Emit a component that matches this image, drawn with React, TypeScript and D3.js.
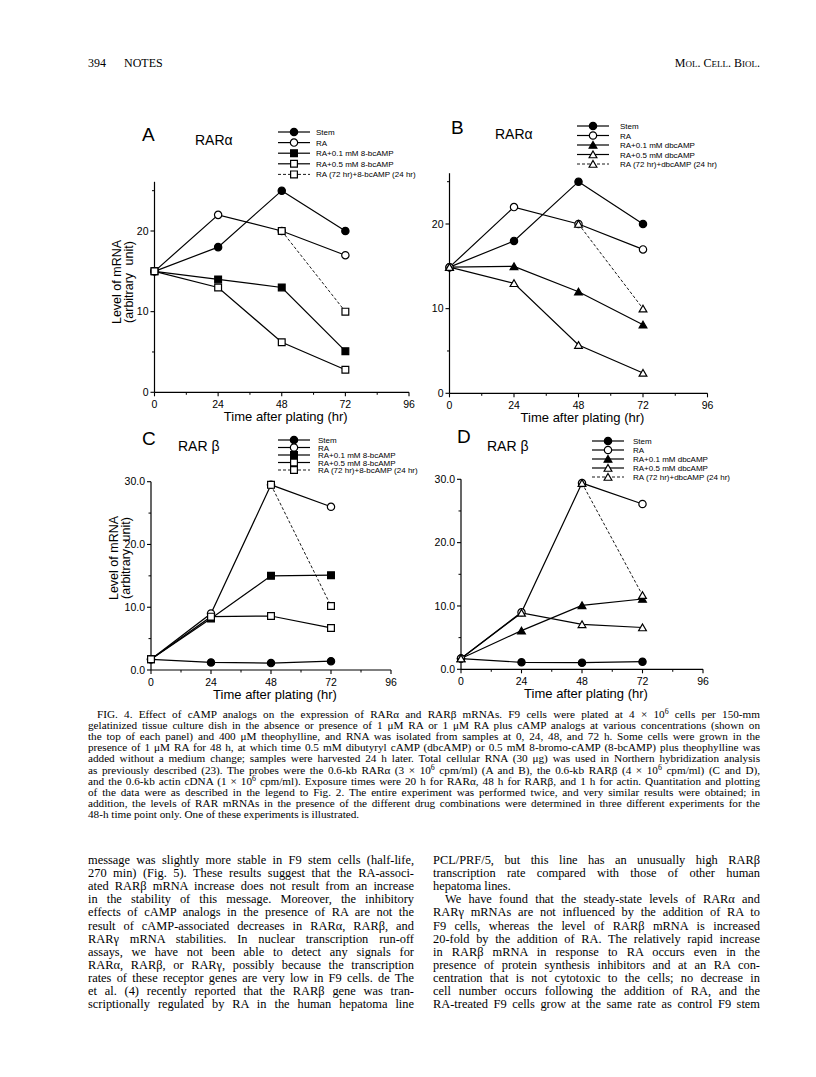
import React, { useLayoutEffect, useRef } from 'react';
import * as d3 from 'd3';

const CHART_FONT = "'Liberation Sans', Arial, Helvetica, sans-serif";
const TEXT_FONT = "'Liberation Serif', 'Times New Roman', Times, serif";

// ---------- data ----------
const times = [0, 24, 48, 72];
const lateTimes = [48, 72];
const xTicks = [0, 24, 48, 72, 96];
const xMinorTicks = [12, 36, 60, 84];

const alphaTicks = [0, 10, 20];
const alphaMinor = [5, 15, 25];
const betaTicks = [0, 10, 20, 30];
const betaMinor = [5, 15, 25];

// Panel A: RARα with 8-bcAMP
const aStem = [15, 18, 25, 20];
const aRA = [15, 22, 20, 17];
const aLow = [15, 14, 13, 5.1];
const aHigh = [15, 13, 6.2, 2.8];
const aLate = [20, 10];

// Panel B: RARα with dbcAMP
const bStem = [14.9, 18, 25, 20];
const bRA = [14.9, 22, 20, 17];
const bLow = [14.9, 15, 12, 8.1];
const bHigh = [14.9, 13, 5.7, 2.4];
const bLate = [20, 10];

// Panel C: RARβ with 8-bcAMP
const cStem = [1.7, 1.2, 1.1, 1.4];
const cRA = [1.7, 9.0, 29.5, 26.0];
const cLow = [1.7, 8.2, 15.0, 15.1];
const cHigh = [1.7, 8.5, 8.6, 6.7];
const cLate = [29.5, 10.2];

// Panel D: RARβ with dbcAMP
const dStem = [1.7, 1.1, 1.05, 1.2];
const dRA = [1.7, 9.0, 29.4, 26.1];
const dLow = [1.7, 6.1, 10.1, 11.1];
const dHigh = [1.7, 8.9, 7.1, 6.6];
const dLate = [29.4, 11.7];

const legendBc = ['Stem', 'RA', 'RA+0.1 mM 8-bcAMP', 'RA+0.5 mM 8-bcAMP', 'RA (72 hr)+8-bcAMP (24 hr)'];
const legendDbc = ['Stem', 'RA', 'RA+0.1 mM dbcAMP', 'RA+0.5 mM dbcAMP', 'RA (72 hr)+dbcAMP (24 hr)'];

// ---------- text ----------
const headerLeft = ['394', 'NOTES'];
const captionLines = [
  'FIG. 4. Effect of cAMP analogs on the expression of RARα and RARβ mRNAs. F9 cells were plated at 4 × 10^6 cells per 150-mm',
  'gelatinized tissue culture dish in the absence or presence of 1 μM RA or 1 μM RA plus cAMP analogs at various concentrations (shown on',
  'the top of each panel) and 400 μM theophylline, and RNA was isolated from samples at 0, 24, 48, and 72 h. Some cells were grown in the',
  'presence of 1 μM RA for 48 h, at which time 0.5 mM dibutyryl cAMP (dbcAMP) or 0.5 mM 8-bromo-cAMP (8-bcAMP) plus theophylline was',
  'added without a medium change; samples were harvested 24 h later. Total cellular RNA (30 μg) was used in Northern hybridization analysis',
  'as previously described (23). The probes were the 0.6-kb RARα (3 × 10^6 cpm/ml) (A and B), the 0.6-kb RARβ (4 × 10^6 cpm/ml) (C and D),',
  'and the 0.6-kb actin cDNA (1 × 10^6 cpm/ml). Exposure times were 20 h for RARα, 48 h for RARβ, and 1 h for actin. Quantitation and plotting',
  'of the data were as described in the legend to Fig. 2. The entire experiment was performed twice, and very similar results were obtained; in',
  'addition, the levels of RAR mRNAs in the presence of the different drug combinations were determined in three different experiments for the',
  '48-h time point only. One of these experiments is illustrated.',
];
const leftColumn = [
  'message was slightly more stable in F9 stem cells (half-life,',
  '270 min) (Fig. 5). These results suggest that the RA-associ-',
  'ated RARβ mRNA increase does not result from an increase',
  'in the stability of this message. Moreover, the inhibitory',
  'effects of cAMP analogs in the presence of RA are not the',
  'result of cAMP-associated decreases in RARα, RARβ, and',
  'RARγ mRNA stabilities. In nuclear transcription run-off',
  'assays, we have not been able to detect any signals for',
  'RARα, RARβ, or RARγ, possibly because the transcription',
  'rates of these receptor genes are very low in F9 cells. de The',
  'et al. (4) recently reported that the RARβ gene was tran-',
  'scriptionally regulated by RA in the human hepatoma line',
];
const rightColumn = [
  'PCL/PRF/5, but this line has an unusually high RARβ',
  'transcription rate compared with those of other human',
  'hepatoma lines.',
  'We have found that the steady-state levels of RARα and',
  'RARγ mRNAs are not influenced by the addition of RA to',
  'F9 cells, whereas the level of RARβ mRNA is increased',
  '20-fold by the addition of RA. The relatively rapid increase',
  'in RARβ mRNA in response to RA occurs even in the',
  'presence of protein synthesis inhibitors and at an RA con-',
  'centration that is not cytotoxic to the cells; no decrease in',
  'cell number occurs following the addition of RA, and the',
  'RA-treated F9 cells grow at the same rate as control F9 stem',
];

type Shape = 'circle' | 'square' | 'triangle';
interface Series {
  t: number[];
  v: number[];
  shape: Shape;
  filled: boolean;
  dashed?: boolean;
}

function makeSeries(stem: number[], ra: number[], low: number[], high: number[], late: number[], shape: Shape): Series[] {
  return [
    { t: times, v: stem, shape: 'circle', filled: true },
    { t: times, v: ra, shape: 'circle', filled: false },
    { t: times, v: low, shape, filled: true },
    { t: times, v: high, shape, filled: false },
    { t: lateTimes, v: late, shape, filled: false, dashed: true },
  ];
}

const symbolPath = (shape: Shape) => {
  const type = shape === 'circle' ? d3.symbolCircle : shape === 'square' ? d3.symbolSquare : d3.symbolTriangle;
  const size = shape === 'circle' ? 42 : shape === 'square' ? 46 : 26;
  return d3.symbol().type(type).size(size)() as string;
};

function Marker({ x, y, shape, filled }: { x: number; y: number; shape: Shape; filled: boolean }) {
  const dy = shape === 'triangle' ? 1 : 0;
  return (
    <path
      d={symbolPath(shape)}
      transform={`translate(${x},${y + dy})`}
      fill={filled ? '#000' : '#fff'}
      stroke="#000"
      strokeWidth={1.2}
    />
  );
}

interface PanelCfg {
  x0: number;
  x1: number;
  yBottom: number;
  yRef: number;
  yRefPx: number;
  yTop: number;
  ticks: number[];
  minor: number[];
  fmt: (d: number) => string;
  letter: string;
  letterX: number;
  letterY: number;
  title: string;
  titleX: number;
  titleY: number;
  legX: number;
  legY: number;
  legDy: number;
  legTextX: number;
  yTitle?: { x1: number; x2: number; cy: number };
}

function Panel({ cfg, series, labels }: { cfg: PanelCfg; series: Series[]; labels: string[] }) {
  const x = d3.scaleLinear().domain([0, 96]).range([cfg.x0, cfg.x1]);
  const y = d3.scaleLinear().domain([0, cfg.yRef]).range([cfg.yBottom, cfg.yRefPx]);
  const line = d3
    .line<[number, number]>()
    .x((d) => x(d[0]))
    .y((d) => y(d[1]));
  const y0 = y(0);
  const legLen = 32;
  return (
    <g fontFamily={CHART_FONT} fill="#000">
      <line x1={x(0)} x2={x(0)} y1={y0} y2={y(cfg.yTop)} stroke="#000" strokeWidth={1.2} />
      <line x1={x(0)} x2={x(96)} y1={y0} y2={y0} stroke="#000" strokeWidth={1.2} />
      {xTicks.map((t) => (
        <g key={'xt' + t}>
          <line x1={x(t)} x2={x(t)} y1={y0} y2={y0 + 4} stroke="#000" strokeWidth={1.1} />
          <text x={x(t)} y={y0 + 16} fontSize={10.5} textAnchor="middle">
            {t}
          </text>
        </g>
      ))}
      {xMinorTicks.map((t) => (
        <line key={'xm' + t} x1={x(t)} x2={x(t)} y1={y0} y2={y0 + 2.5} stroke="#000" strokeWidth={1} />
      ))}
      {cfg.ticks.map((t) => (
        <g key={'yt' + t}>
          <line x1={x(0) - 4} x2={x(0)} y1={y(t)} y2={y(t)} stroke="#000" strokeWidth={1.1} />
          <text x={x(0) - 6} y={y(t) + 3.7} fontSize={10.5} textAnchor="end">
            {cfg.fmt(t)}
          </text>
        </g>
      ))}
      {cfg.minor.map((t) => (
        <line key={'ym' + t} x1={x(0) - 2.5} x2={x(0)} y1={y(t)} y2={y(t)} stroke="#000" strokeWidth={1} />
      ))}
      <text x={(x(0) + x(96)) / 2 + 4} y={y0 + 29} fontSize={13} textAnchor="middle">
        Time after plating (hr)
      </text>
      {cfg.yTitle && (
        <g>
          <text
            transform={`translate(${cfg.yTitle.x1},${cfg.yTitle.cy}) rotate(-90)`}
            fontSize={12.5}
            textAnchor="middle"
          >
            Level of mRNA
          </text>
          <text
            transform={`translate(${cfg.yTitle.x2},${cfg.yTitle.cy}) rotate(-90)`}
            fontSize={12.5}
            textAnchor="middle"
            wordSpacing={4}
          >
            (arbitrary unit)
          </text>
        </g>
      )}
      <text x={cfg.letterX} y={cfg.letterY} fontSize={19}>
        {cfg.letter}
      </text>
      <text x={cfg.titleX} y={cfg.titleY} fontSize={14}>
        {cfg.title}
      </text>
      {series.map((s, i) => (
        <path
          key={'l' + i}
          d={line(s.t.map((t, j) => [t, s.v[j]] as [number, number])) as string}
          fill="none"
          stroke="#000"
          strokeWidth={s.dashed ? 0.9 : 1.2}
          strokeDasharray={s.dashed ? '3,2' : undefined}
        />
      ))}
      {series.map((s, i) =>
        s.t.map((t, j) => (
          <Marker key={'m' + i + '_' + j} x={x(t)} y={y(s.v[j])} shape={s.shape} filled={s.filled} />
        ))
      )}
      {series.map((s, i) => {
        const ly = cfg.legY + i * cfg.legDy;
        return (
          <g key={'lg' + i}>
            <line
              x1={cfg.legX}
              x2={cfg.legX + legLen}
              y1={ly}
              y2={ly}
              stroke="#000"
              strokeWidth={s.dashed ? 0.9 : 1.2}
              strokeDasharray={s.dashed ? '3,2' : undefined}
            />
            <Marker x={cfg.legX + legLen / 2} y={ly} shape={s.shape} filled={s.filled} />
            <text x={cfg.legTextX} y={ly + 3} fontSize={8}>
              {labels[i]}
            </text>
          </g>
        );
      })}
    </g>
  );
}

const fmtInt = (d: number) => String(d);
const fmtOne = (d: number) => d.toFixed(1);

const cfgA: PanelCfg = {
  x0: 154.5, x1: 409, yBottom: 392.3, yRef: 20, yRefPx: 231, yTop: 26.1,
  ticks: alphaTicks, minor: alphaMinor, fmt: fmtInt,
  letter: 'A', letterX: 142, letterY: 141, title: 'RARα', titleX: 195, titleY: 145,
  legX: 278, legY: 132, legDy: 10.6, legTextX: 316,
  yTitle: { x1: 121, x2: 133, cy: 282 },
};
const cfgB: PanelCfg = {
  x0: 449.5, x1: 707.5, yBottom: 393.3, yRef: 20, yRefPx: 224, yTop: 26,
  ticks: alphaTicks, minor: alphaMinor, fmt: fmtInt,
  letter: 'B', letterX: 451, letterY: 134, title: 'RARα', titleX: 495, titleY: 139,
  legX: 577, legY: 126, legDy: 9.5, legTextX: 620,
};
const cfgC: PanelCfg = {
  x0: 151, x1: 391, yBottom: 670, yRef: 30, yRefPx: 481.7, yTop: 30,
  ticks: betaTicks, minor: betaMinor, fmt: fmtOne,
  letter: 'C', letterX: 142, letterY: 445, title: 'RAR β', titleX: 178, titleY: 451,
  legX: 278, legY: 440, legDy: 7.5, legTextX: 318,
  yTitle: { x1: 118, x2: 130, cy: 558 },
};
const cfgD: PanelCfg = {
  x0: 461, x1: 703, yBottom: 669.3, yRef: 30, yRefPx: 479.3, yTop: 30,
  ticks: betaTicks, minor: betaMinor, fmt: fmtOne,
  letter: 'D', letterX: 457, letterY: 443, title: 'RAR β', titleX: 487, titleY: 451,
  legX: 592, legY: 441, legDy: 9, legTextX: 633,
};

function Rich({ s, sup }: { s: string; sup: number }) {
  const parts = s.split(/\^(\w)/);
  const out: React.ReactNode[] = [];
  parts.forEach((p, i) => {
    if (i % 2 === 1) {
      out.push(
        <tspan key={i} dy={-4} fontSize={sup}>
          {p}
        </tspan>
      );
    } else if (i > 0) {
      out.push(
        <tspan key={i} dy={4}>
          {p}
        </tspan>
      );
    } else {
      out.push(p);
    }
  });
  return <>{out}</>;
}

function TextBlock({
  lines, x, right, y0, dy, size, noJustify, indent,
}: {
  lines: string[]; x: number; right: number; y0: number; dy: number; size: number;
  noJustify: number[]; indent: Record<number, number>;
}) {
  return (
    <g fontFamily={TEXT_FONT} fontSize={size} fill="#000">
      {lines.map((l, i) => {
        const ind = indent[i] || 0;
        const just = !noJustify.includes(i);
        return (
          <text key={i} x={x + ind} y={y0 + i * dy} data-just={just ? right - x - ind : undefined}>
            <Rich s={l} sup={size * 0.7} />
          </text>
        );
      })}
    </g>
  );
}

function justifyAll(svg: SVGSVGElement | null) {
  if (!svg) return;
  svg.querySelectorAll('text[data-just]').forEach((node) => {
    const el = node as SVGTextElement;
    el.removeAttribute('word-spacing');
    const target = parseFloat(el.getAttribute('data-just') || '0');
    const len = el.getComputedTextLength();
    const spaces = (el.textContent || '').split(' ').length - 1;
    if (spaces > 0) {
      el.setAttribute('word-spacing', String((target - len) / spaces));
    }
  });
}

export default function App() {
  const ref = useRef<SVGSVGElement>(null);
  useLayoutEffect(() => {
    justifyAll(ref.current);
    if ((document as any).fonts && (document as any).fonts.ready) {
      (document as any).fonts.ready.then(() => justifyAll(ref.current));
    }
  }, []);
  return (
    <svg
      ref={ref}
      width={816}
      height={1077}
      style={{ position: 'absolute', left: 0, top: 0, background: '#fff' }}
    >
      <rect x={0} y={0} width={816} height={1077} fill="#fff" />
      <g fontFamily={TEXT_FONT} fontSize={12} fill="#000">
        <text x={88} y={67}>{headerLeft[0]}</text>
        <text x={124} y={67}>{headerLeft[1]}</text>
        <text x={760} y={67} textAnchor="end">
          M<tspan fontSize={9}>OL</tspan>. C<tspan fontSize={9}>ELL</tspan>. B<tspan fontSize={9}>IOL</tspan>.
        </text>
      </g>
      <Panel cfg={cfgA} series={makeSeries(aStem, aRA, aLow, aHigh, aLate, 'square')} labels={legendBc} />
      <Panel cfg={cfgB} series={makeSeries(bStem, bRA, bLow, bHigh, bLate, 'triangle')} labels={legendDbc} />
      <Panel cfg={cfgC} series={makeSeries(cStem, cRA, cLow, cHigh, cLate, 'square')} labels={legendBc} />
      <Panel cfg={cfgD} series={makeSeries(dStem, dRA, dLow, dHigh, dLate, 'triangle')} labels={legendDbc} />
      <TextBlock lines={captionLines} x={88} right={760} y0={718} dy={11.1} size={11.2} noJustify={[9]} indent={{ 0: 9 }} />
      <TextBlock lines={leftColumn} x={88} right={414} y0={864} dy={13.1} size={12.4} noJustify={[]} indent={{}} />
      <TextBlock lines={rightColumn} x={433} right={760} y0={864} dy={13.1} size={12.4} noJustify={[2]} indent={{ 3: 12 }} />
    </svg>
  );
}
